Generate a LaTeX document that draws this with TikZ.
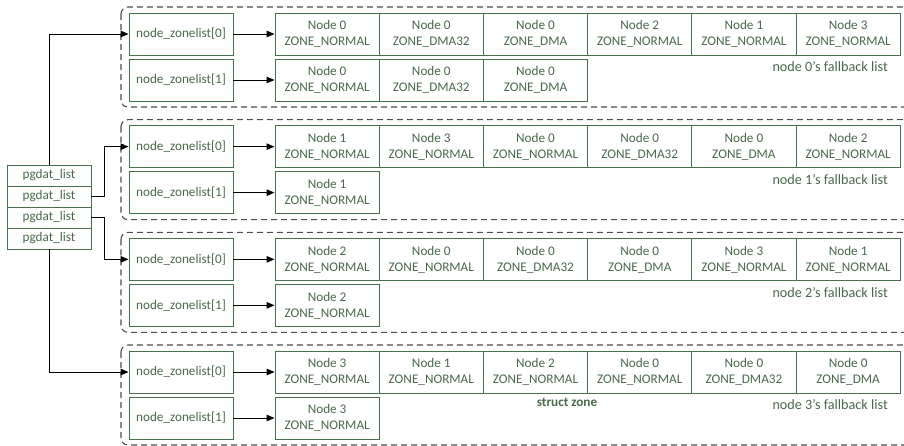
\documentclass[tikz,border=0pt]{standalone}
\usepackage{fontspec}
\setmainfont{Carlito}
\usetikzlibrary{arrows.meta}
\definecolor{boxgreen}{RGB}{70,112,78}
\definecolor{txtgreen}{RGB}{72,104,74}
\tikzset{
  zbox/.style={draw=boxgreen, line width=0.9pt, text=txtgreen, minimum width=104.2pt, minimum height=42pt, inner sep=0pt, align=center, font=\fontsize{13.2}{16}\selectfont},
  nzbox/.style={zbox, minimum width=104pt},
  pbox/.style={draw=boxgreen, line width=0.9pt, text=txtgreen, minimum width=84pt, minimum height=21pt, inner sep=0pt, font=\fontsize{13.2}{15}\selectfont},
  grp/.style={draw=black!70, line width=1.1pt, dash pattern=on 6pt off 4pt, rounded corners=7pt},
  conn/.style={draw=black, line width=1pt, -{Triangle[length=8pt,width=6.5pt]}},
  lbl/.style={text=txtgreen, font=\fontsize{14.2}{16}\selectfont, inner sep=0pt},
}
\begin{document}
\begin{tikzpicture}[x=1pt,y=-1pt]
\useasboundingbox (0,0) rectangle (904,445);
\begin{scope}
\clip (0,0) rectangle (904,445);
\foreach \g in {0,1,2,3}{
  \pgfmathsetmacro{\t}{13+112.67*\g}
  \draw[grp] (121,\t-6) rectangle (920,\t+94);
}
\end{scope}
\foreach \g/\la/\lb in {
  0/{0/NORMAL,0/DMA32,0/DMA,2/NORMAL,1/NORMAL,3/NORMAL}/{0/NORMAL,0/DMA32,0/DMA},
  1/{1/NORMAL,3/NORMAL,0/NORMAL,0/DMA32,0/DMA,2/NORMAL}/{1/NORMAL},
  2/{2/NORMAL,0/NORMAL,0/DMA32,0/DMA,3/NORMAL,1/NORMAL}/{2/NORMAL},
  3/{3/NORMAL,1/NORMAL,2/NORMAL,0/NORMAL,0/DMA32,0/DMA}/{3/NORMAL}}{
  \pgfmathsetmacro{\t}{13+112.67*\g}
  \node[nzbox] (nzl\g-0) at (181,\t+21) {node\_zonelist[0]};
  \node[nzbox] (nzl\g-1) at (181,\t+67) {node\_zonelist[1]};
  \foreach \n/\z [count=\c from 0] in \la {
    \node[zbox] (z\g-0-\c) at (327.1+104.2*\c,\t+21) {Node \n\\ZONE\_\z};
  }
  \foreach \n/\z [count=\c from 0] in \lb {
    \node[zbox] (z\g-1-\c) at (327.1+104.2*\c,\t+67) {Node \n\\ZONE\_\z};
  }
  \draw[conn] (nzl\g-0.east) -- (z\g-0-0.west);
  \draw[conn] (nzl\g-1.east) -- (z\g-1-0.west);
  \node[lbl, anchor=east] (fb\g) at (888,\t+54) {node \g\symbol{39}s fallback list};
}
\node[pbox] (p0) at (49,175.5) {pgdat\_list};
\node[pbox] (p1) at (49,196.5) {pgdat\_list};
\node[pbox] (p2) at (49,217.5) {pgdat\_list};
\node[pbox] (p3) at (49,238.5) {pgdat\_list};
\node[lbl, font=\fontsize{13.2}{15}\selectfont\bfseries] (sz) at (567,402) {struct zone};
\draw[conn] (p0.north) |- (nzl0-0.west);
\draw[conn] (p1.east) -- ++(13,0) |- (nzl1-0.west);
\draw[conn] (p2.east) -- ++(13,0) |- (nzl2-0.west);
\draw[conn] (p3.south) |- (nzl3-0.west);
\end{tikzpicture}
\end{document}
